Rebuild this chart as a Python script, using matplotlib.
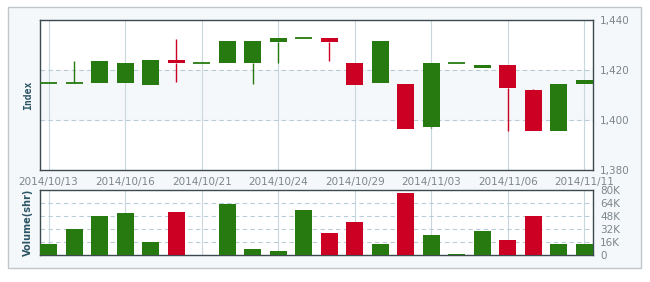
import matplotlib
matplotlib.use("Agg")
import matplotlib.pyplot as plt
from matplotlib.patches import Rectangle
import numpy as np

dates = ["2014/10/13", "2014/10/14", "2014/10/15", "2014/10/16", "2014/10/17",
         "2014/10/20", "2014/10/21", "2014/10/22", "2014/10/23", "2014/10/24",
         "2014/10/27", "2014/10/28", "2014/10/29", "2014/10/30", "2014/10/31",
         "2014/11/03", "2014/11/04", "2014/11/05", "2014/11/06", "2014/11/07",
         "2014/11/10", "2014/11/11"]
opens  = [1414.7, 1414.7, 1414.7, 1414.7, 1414.0, 1424.0, 1422.7, 1422.7, 1422.7, 1431.3,
          1432.7, 1432.7, 1422.9, 1414.7, 1414.3, 1397.3, 1422.9, 1420.9, 1421.9, 1412.0,
          1395.7, 1414.3]
closes = [1414.7, 1414.7, 1423.6, 1422.8, 1424.0, 1422.8, 1422.7, 1431.6, 1431.6, 1432.7,
          1432.7, 1431.3, 1414.0, 1431.6, 1396.3, 1422.9, 1422.9, 1421.9, 1412.9, 1395.7,
          1414.4, 1416.0]
highs  = [1414.7, 1423.6, 1423.6, 1422.8, 1424.0, 1432.4, 1422.7, 1431.6, 1431.6, 1432.7,
          1432.7, 1432.7, 1422.9, 1431.6, 1414.3, 1422.9, 1422.9, 1421.9, 1421.9, 1412.5,
          1414.4, 1416.0]
lows   = [1414.7, 1414.7, 1414.7, 1414.7, 1414.0, 1415.1, 1422.7, 1422.7, 1414.3, 1422.7,
          1432.7, 1423.6, 1414.0, 1414.7, 1396.3, 1396.9, 1422.9, 1420.9, 1395.7, 1395.7,
          1395.7, 1414.3]
volumes_k = [13.2, 32.0, 48.0, 51.7, 16.0, 53.3, 0.0, 62.8, 7.4, 4.9, 55.4, 27.0, 40.6, 13.5,
             76.3, 24.6, 1.2, 30.0, 18.9, 48.0, 13.5, 13.5]
price_ticks = [1380, 1400, 1420, 1440]
price_tick_labels = ["1,380", "1,400", "1,420", "1,440"]
vol_ticks = [0, 16, 32, 48, 64, 80]
vol_tick_labels = ["0", "16K", "32K", "48K", "64K", "80K"]

GREEN = "#267a10"
RED = "#cc0022"
GRID_V = "#c8d6dd"
GRID_H = "#b9cdd8"
SPINE = "#3c4a50"
TXT = "#7c868c"
LABEL = "#2b5566"

W, H = 650, 282
fig = plt.figure(figsize=(W / 100, H / 100), dpi=100)
fig.patch.set_facecolor("white")

# outer panel
fig.patches.append(Rectangle((8 / W, 1 - 268 / H), 633 / W, 261 / H,
                             transform=fig.transFigure, facecolor="#f5f8fa",
                             edgecolor="#c0c6c9", linewidth=1.0, zorder=-10))

ax = fig.add_axes([40 / W, 1 - 170 / H, 553 / W, 150 / H])
axv = fig.add_axes([40 / W, 1 - 255 / H, 553 / W, 65 / H])

n = len(dates)
x = np.arange(n)
bw = 0.667
xlim = (-bw / 2, n - 1 + bw / 2)
tick_idx = list(range(0, n, 3))

for a in (ax, axv):
    a.set_facecolor("white")
    a.set_xlim(*xlim)
    for s in a.spines.values():
        s.set_color(SPINE)
        s.set_linewidth(1.0)
    for i in tick_idx:
        a.axvline(i, color=GRID_V, lw=0.8, zorder=0.5)
    a.yaxis.tick_right()
    a.tick_params(axis="y", length=0, pad=5, labelsize=7.5, labelcolor=TXT)

# price axis
ax.set_ylim(1380, 1440)
ax.axhspan(1400, 1420, color="#f5f8fa", zorder=0.2)
for v in (1400, 1420):
    ax.axhline(v, color=GRID_H, lw=0.8, ls=(0, (4, 3)), zorder=0.6)
ax.set_yticks(price_ticks)
ax.set_yticklabels(price_tick_labels)
ax.set_xticks(tick_idx)
ax.set_xticklabels([dates[i] for i in tick_idx])
ax.tick_params(axis="x", length=0, pad=5, labelsize=7.5, labelcolor=TXT)

for i in range(n):
    o, c, h, l = opens[i], closes[i], highs[i], lows[i]
    col = GREEN if c >= o else RED
    if h > max(o, c):
        ax.plot([i, i], [max(o, c), h], color=col, lw=1.0, zorder=2, solid_capstyle="butt")
    if l < min(o, c):
        ax.plot([i, i], [l, min(o, c)], color=col, lw=1.0, zorder=2, solid_capstyle="butt")
    body = abs(c - o)
    if body < 0.3:
        ax.plot([i - bw / 2, i + bw / 2], [o, o], color=col, lw=1.3, zorder=3,
                solid_capstyle="butt")
    else:
        ax.bar(i, body, bottom=min(o, c), width=bw, color=col, zorder=3, linewidth=0)

# volume axis
axv.set_ylim(0, 80)
for v in (16, 32, 48, 64):
    axv.axhline(v, color=GRID_H, lw=0.8, ls=(0, (4, 3)), zorder=0.6)
axv.set_yticks(vol_ticks)
axv.set_yticklabels(vol_tick_labels)
axv.set_xticks([])
vcols = [GREEN if closes[i] >= opens[i] else RED for i in range(n)]
axv.bar(x, volumes_k, width=bw, color=vcols, zorder=3, linewidth=0)

fig.text(28 / W, 1 - 95 / H, "Index", rotation=90, ha="center", va="center",
         fontsize=7, fontweight="bold", color=LABEL, family="DejaVu Sans Mono")
fig.text(28 / W, 1 - 222 / H, "Volume(shr)", rotation=90, ha="center", va="center",
         fontsize=7, fontweight="bold", color=LABEL)

fig.savefig("out.png", dpi=100, facecolor="white")
